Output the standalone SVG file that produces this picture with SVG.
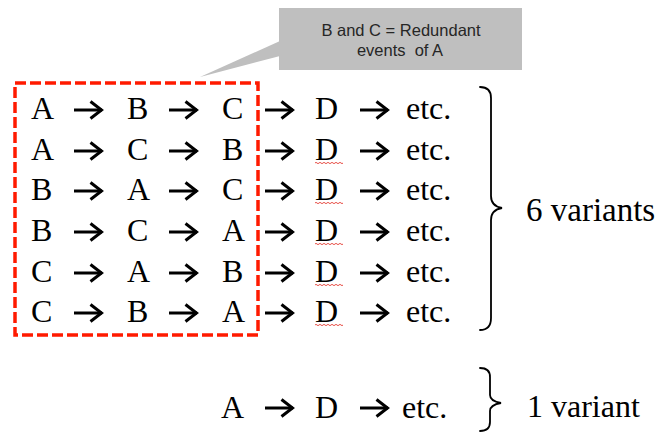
<svg xmlns="http://www.w3.org/2000/svg" xmlns:xlink="http://www.w3.org/1999/xlink" width="659" height="432" viewBox="0 0 659 432">
  <style>
    .ev { font-family: "Liberation Serif", "Times New Roman", serif; font-size: 32px; fill: #000; }
    .big { font-size: 33px; }
    .note { font-family: "Liberation Sans", Arial, sans-serif; font-size: 16.5px; fill: #262626; text-anchor: middle; }
    .arr { fill: none; stroke: #000; stroke-width: 3; stroke-linejoin: miter; }
    .brace { fill: none; stroke: #000; stroke-width: 1.8; stroke-linecap: round; }
    .squig { fill: none; stroke: #e8524a; stroke-width: 1; }
  </style>
  <defs>
    <!-- open-headed flow arrow, origin at left end of the shaft -->
    <g id="flow">
      <path class="arr" d="M0,0 H28"/>
      <path class="arr" d="M16.5,-8.5 L27.5,0 L16.5,8.5"/>
    </g>
    <!-- spell-check style wavy underline -->
    <path id="wave" class="squig" d="M0,0 q1,-1.3 2,0 t2,0 t2,0 t2,0 t2,0 t2,0 t2,0 t2,0 t2,0 t2,0 t2,0 t2,0 t2,0 t2,0"/>
  </defs>

  <!-- callout note -->
  <g id="callout">
    <polygon points="280,41 200,77 280,56" fill="#bfbfbf"/>
    <rect x="279" y="8" width="243" height="62" fill="#bfbfbf"/>
    <text class="note" x="401" y="36">B and C = Redundant</text>
    <text class="note" x="400" y="56" xml:space="preserve">events  of A</text>
  </g>

  <!-- dashed frame around the permuted events -->
  <g id="frame">
    <rect x="15" y="83" width="243" height="252" fill="none" stroke="#ff1a00" stroke-width="3.5" stroke-dasharray="11 4"/>
  </g>

  <!-- event sequences -->
  <g id="row1" class="ev">
    <text x="31" y="119">A</text><text x="127" y="119">B</text><text x="222" y="119">C</text>
    <text x="315" y="119">D</text><text x="406" y="119">etc.</text>
  </g>
  <g id="row2" class="ev">
    <text x="31" y="160">A</text><text x="127" y="160">C</text><text x="222" y="160">B</text>
    <text x="315" y="160">D</text><text x="406" y="160">etc.</text>
  </g>
  <g id="row3" class="ev">
    <text x="31" y="200">B</text><text x="127" y="200">A</text><text x="222" y="200">C</text>
    <text x="315" y="200">D</text><text x="406" y="200">etc.</text>
  </g>
  <g id="row4" class="ev">
    <text x="31" y="241">B</text><text x="127" y="241">C</text><text x="222" y="241">A</text>
    <text x="315" y="241">D</text><text x="406" y="241">etc.</text>
  </g>
  <g id="row5" class="ev">
    <text x="31" y="282">C</text><text x="127" y="282">A</text><text x="222" y="282">B</text>
    <text x="315" y="282">D</text><text x="406" y="282">etc.</text>
  </g>
  <g id="row6" class="ev">
    <text x="31" y="322">C</text><text x="127" y="322">B</text><text x="222" y="322">A</text>
    <text x="315" y="322">D</text><text x="406" y="322">etc.</text>
  </g>
  <g id="row7" class="ev">
    <text x="221" y="418">A</text><text x="315" y="418">D</text><text x="402" y="418">etc.</text>
  </g>

  <!-- wavy underlines under D -->
  <g id="underlines">
    <use xlink:href="#wave" x="315" y="163"/>
    <use xlink:href="#wave" x="315" y="203"/>
    <use xlink:href="#wave" x="315" y="244"/>
    <use xlink:href="#wave" x="315" y="285"/>
    <use xlink:href="#wave" x="315" y="325"/>
  </g>

  <!-- connectors: arrows between events -->
  <g id="connectors">
    <use xlink:href="#flow" x="74" y="110"/><use xlink:href="#flow" x="169" y="110"/><use xlink:href="#flow" x="265" y="110"/><use xlink:href="#flow" x="360" y="110"/>
    <use xlink:href="#flow" x="74" y="151"/><use xlink:href="#flow" x="169" y="151"/><use xlink:href="#flow" x="265" y="151"/><use xlink:href="#flow" x="360" y="151"/>
    <use xlink:href="#flow" x="74" y="191"/><use xlink:href="#flow" x="169" y="191"/><use xlink:href="#flow" x="265" y="191"/><use xlink:href="#flow" x="360" y="191"/>
    <use xlink:href="#flow" x="74" y="232"/><use xlink:href="#flow" x="169" y="232"/><use xlink:href="#flow" x="265" y="232"/><use xlink:href="#flow" x="360" y="232"/>
    <use xlink:href="#flow" x="74" y="273"/><use xlink:href="#flow" x="169" y="273"/><use xlink:href="#flow" x="265" y="273"/><use xlink:href="#flow" x="360" y="273"/>
    <use xlink:href="#flow" x="74" y="313"/><use xlink:href="#flow" x="169" y="313"/><use xlink:href="#flow" x="265" y="313"/><use xlink:href="#flow" x="360" y="313"/>
    <use xlink:href="#flow" x="265" y="408"/><use xlink:href="#flow" x="360" y="408"/>
  </g>

  <!-- braces and counts -->
  <g id="group-six">
    <path class="brace" d="M480,87 C487,87 491,90 491,98 L491,196 C491,204 496,207 502,208 C496,209 491,212 491,220 L491,318 C491,326 487,330 480,330"/>
    <text class="ev big" x="526" y="221">6 variants</text>
  </g>
  <g id="group-one">
    <path class="brace" d="M480,368 C486,368 490,371 490,377 L490,395 C490,400 495,402 501,403 C495,404 490,406 490,411 L490,422 C490,428 486,431 480,431"/>
    <text class="ev" x="527" y="417">1 variant</text>
  </g>
</svg>
